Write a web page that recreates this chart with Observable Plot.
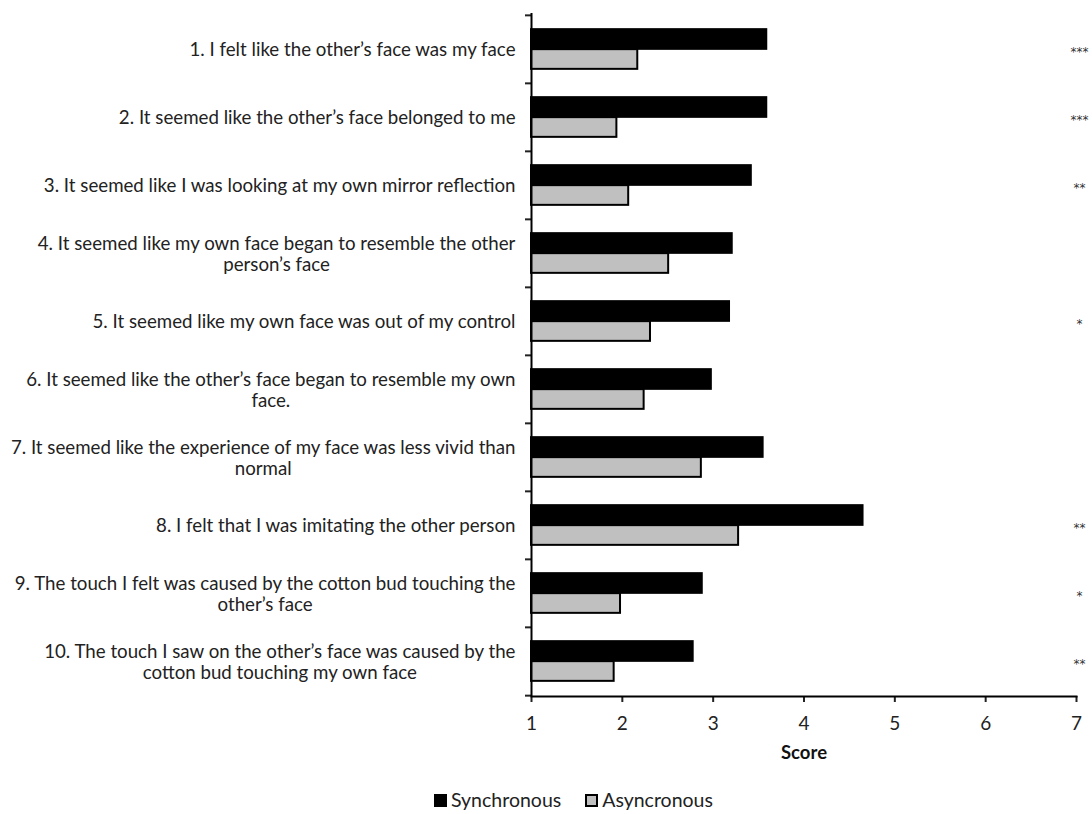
<!DOCTYPE html>
<html>
<head>
<meta charset="utf-8">
<script src="https://cdn.jsdelivr.net/npm/d3@7"></script>
<script src="https://cdn.jsdelivr.net/npm/@observablehq/plot@0.6"></script>
<style>
  html, body { margin: 0; padding: 0; background: #fff; }
  body { width: 1092px; height: 814px; overflow: hidden; font-family: Lato, "Open Sans", sans-serif; }
  #legend { display: flex; align-items: center; gap: 24px; padding-left: 434px; margin-top: 7px; font-size: 19.5px; color: #222; line-height: 22px; }
  .item { display: flex; align-items: center; gap: 4px; }
  .sw { width: 13px; height: 13px; box-sizing: border-box; border: 2px solid #000; }
</style>
</head>
<body>
<div id="chart"></div>
<div id="legend"></div>
<script>
const items = [
  "1. I felt like the other’s face was my face",
  "2. It seemed like the other’s face belonged to me",
  "3. It seemed like I was looking at my own mirror reflection",
  "4. It seemed like my own face began to resemble the other\nperson’s face",
  "5. It seemed like my own face was out of my control",
  "6. It seemed like the other’s face began to resemble my own\nface.",
  "7. It seemed like the experience of my face was less vivid than\nnormal",
  "8. I felt that I was imitating the other person",
  "9. The touch I felt was caused by the cotton bud touching the\nother’s face",
  "10. The touch I saw on the other’s face was caused by the\ncotton bud touching my own face"
];
const synchronous = [3.59, 3.59, 3.42, 3.21, 3.18, 2.98, 3.55, 4.65, 2.88, 2.78];
const asynchronous = [2.17, 1.94, 2.07, 2.51, 2.31, 2.24, 2.87, 3.28, 1.98, 1.91];
const stars = ["***", "***", "**", "", "*", "", "", "**", "*", "**"];
const seriesNames = ["Synchronous", "Asyncronous"];
const seriesColors = ["#000000", "#c0c0c0"];
const xDomain = [1, 7];
const xTicks = [1, 2, 3, 4, 5, 6, 7];
const xLabel = "Score";

const W = 1092, H = 782, mt = 13, mb = 86, ml = 531, mr = 16;
const bw = (H - mt - mb) / items.length;
const barH = 20;

const rows = [];
items.forEach((it, i) => {
  rows.push({item: it, series: seriesNames[0], value: synchronous[i]});
  rows.push({item: it, series: seriesNames[1], value: asynchronous[i]});
});
const starRows = items.map((it, i) => ({item: it, s: stars[i]}));

const chart = Plot.plot({
  width: W, height: H,
  marginTop: mt, marginBottom: mb, marginLeft: ml, marginRight: mr,
  style: {fontFamily: "Lato, 'Open Sans', sans-serif", color: "#222", background: "#fff"},
  x: {domain: xDomain, label: null},
  y: {domain: items, padding: 0, label: null},
  color: {domain: seriesNames, range: seriesColors},
  marks: [
    Plot.barX(rows.filter(d => d.series === seriesNames[0]), {
      y: "item", x1: xDomain[0], x2: "value", fill: "series", stroke: "#000", strokeWidth: 2,
      insetTop: bw / 2 - barH, insetBottom: bw / 2
    }),
    Plot.barX(rows.filter(d => d.series === seriesNames[1]), {
      y: "item", x1: xDomain[0], x2: "value", fill: "series", stroke: "#000", strokeWidth: 2,
      insetTop: bw / 2, insetBottom: bw / 2 - barH
    }),
    Plot.axisY({tickSize: 0, tickPadding: 16, fontSize: 18.7, lineHeight: 1.13, label: null}),
    Plot.axisY({ticks: items, tickSize: 6, tickFormat: null, dy: -bw / 2, strokeWidth: 2, label: null}),
    Plot.axisY({ticks: [items[items.length - 1]], tickSize: 6, tickFormat: null, dy: bw / 2, strokeWidth: 2, label: null}),
    Plot.axisX({ticks: xTicks, tickFormat: d3.format("d"), tickSize: 6, tickPadding: 14, fontSize: 19, strokeWidth: 2, label: null}),
    Plot.ruleX([xDomain[0]], {strokeWidth: 2, stroke: "#000"}),
    Plot.frame({anchor: "bottom", strokeWidth: 2, stroke: "#000"}),
    Plot.text(starRows, {y: "item", x: xDomain[1], text: "s", dx: 3, dy: 3, fontSize: 12, fill: "#333", fontFamily: "DejaVu Sans", letterSpacing: "-1px"}),
    Plot.text([xLabel], {frameAnchor: "bottom", dy: 62, fontSize: 18.5, fontWeight: "bold", fill: "#111"})
  ]
});
document.getElementById("chart").appendChild(chart);

// center the lines of wrapped category labels within their block
chart.querySelectorAll('g[aria-label="y-axis tick label"] text').forEach(t => {
  const spans = t.querySelectorAll("tspan");
  if (spans.length > 1) {
    const w = t.getBBox().width;
    t.setAttribute("text-anchor", "middle");
    spans.forEach(s => s.setAttribute("x", -w / 2));
  }
});

const legend = document.getElementById("legend");
seriesNames.forEach((n, i) => {
  const el = document.createElement("div");
  el.className = "item";
  el.innerHTML = `<span class="sw" style="background:${seriesColors[i]}"></span><span>${n}</span>`;
  legend.appendChild(el);
});
</script>
</body>
</html>
